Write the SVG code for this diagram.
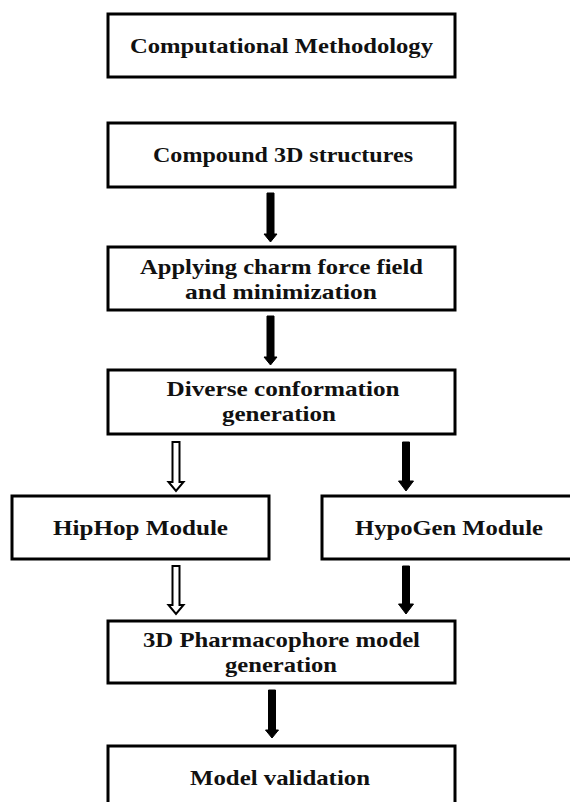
<svg xmlns="http://www.w3.org/2000/svg" width="570" height="802" viewBox="0 0 570 802">
<style>
.box{fill:#fff;stroke:#000;stroke-width:3}
.t{font-family:"Liberation Serif","Times New Roman",serif;font-weight:bold;font-size:21px;fill:#111;text-anchor:middle}
.solid{fill:#000;stroke:#000;stroke-width:1}
.hollow{fill:#fff;stroke:#000;stroke-width:2}
</style>
<rect width="570" height="802" fill="#fff"/>
<g id="n1"><rect class="box" x="108" y="14" width="347" height="63"/><text class="t" x="281.5" y="53" textLength="303" lengthAdjust="spacingAndGlyphs">Computational Methodology</text></g>
<g id="n2"><rect class="box" x="108" y="123" width="347" height="64"/><text class="t" x="283" y="162" textLength="260" lengthAdjust="spacingAndGlyphs">Compound 3D structures</text></g>
<g id="n3"><rect class="box" x="108" y="247" width="347" height="63"/><text class="t" x="281.5" y="274" textLength="283" lengthAdjust="spacingAndGlyphs">Applying charm force field</text><text class="t" x="281" y="299" textLength="192" lengthAdjust="spacingAndGlyphs">and minimization</text></g>
<g id="n4"><rect class="box" x="108" y="370" width="347" height="64"/><text class="t" x="283" y="396" textLength="233" lengthAdjust="spacingAndGlyphs">Diverse conformation</text><text class="t" x="279" y="421" textLength="114" lengthAdjust="spacingAndGlyphs">generation</text></g>
<g id="n5"><rect class="box" x="12" y="496" width="257" height="63"/><text class="t" x="140.5" y="535" textLength="175" lengthAdjust="spacingAndGlyphs">HipHop Module</text></g>
<g id="n6"><rect class="box" x="322" y="496" width="254" height="63"/><text class="t" x="449" y="535" textLength="188" lengthAdjust="spacingAndGlyphs">HypoGen Module</text></g>
<g id="n7"><rect class="box" x="108" y="621" width="347" height="62"/><text class="t" x="281.5" y="647" textLength="277" lengthAdjust="spacingAndGlyphs">3D Pharmacophore model</text><text class="t" x="281" y="672" textLength="112" lengthAdjust="spacingAndGlyphs">generation</text></g>
<g id="n8"><rect class="box" x="108" y="746" width="347" height="70"/><text class="t" x="280" y="785" textLength="180" lengthAdjust="spacingAndGlyphs">Model validation</text></g>
<g id="connectors">
<polygon class="solid" points="267,193 274,193 274,234 277,234 270.5,242 264,234 267,234"/>
<polygon class="solid" points="267,316 274,316 274,357 277,357 270.5,365 264,357 267,357"/>
<polygon class="hollow" points="172.5,442 179.5,442 179.5,482 183.5,482 176,491 168.5,482 172.5,482"/>
<polygon class="solid" points="402.5,442 409.5,442 409.5,481 413.5,481 406,491 398.5,481 402.5,481"/>
<polygon class="hollow" points="172.5,566 179.5,566 179.5,605 183.5,605 176,614 168.5,605 172.5,605"/>
<polygon class="solid" points="402.5,566 409.5,566 409.5,604 413.5,604 406,614 398.5,604 402.5,604"/>
<polygon class="solid" points="268.5,690 275.5,690 275.5,730 278.5,730 272,738 265.5,730 268.5,730"/>
</g>
</svg>
